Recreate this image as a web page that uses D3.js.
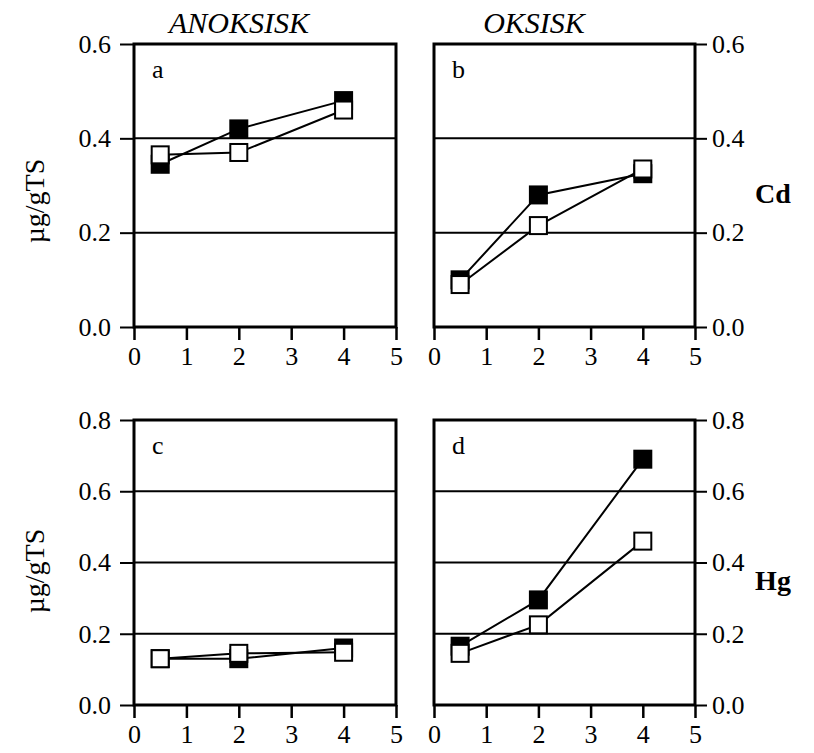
<!DOCTYPE html>
<html>
<head>
<meta charset="utf-8">
<script src="https://cdn.jsdelivr.net/npm/d3@7"></script>
<style>
  body { margin: 0; background: #fff; }
</style>
</head>
<body>
<script>
// -------------------- DATA --------------------
var depths = [0.5, 2, 4];          // x values (same for all panels)
var xTicks = [0, 1, 2, 3, 4, 5];

// Cd (top row)
var cdAnoxFilled = [0.345, 0.42, 0.48];
var cdAnoxOpen   = [0.365, 0.37, 0.46];
var cdOxFilled   = [0.10, 0.28, 0.325];
var cdOxOpen     = [0.09, 0.215, 0.335];
var cdTicks = [0, 0.2, 0.4, 0.6];

// Hg (bottom row)
var hgAnoxFilled = [0.13, 0.13, 0.16];
var hgAnoxOpen   = [0.13, 0.145, 0.148];
var hgOxFilled   = [0.165, 0.295, 0.69];
var hgOxOpen     = [0.145, 0.225, 0.46];
var hgTicks = [0, 0.2, 0.4, 0.6, 0.8];

var colTitles = ["ANOKSISK", "OKSISK"];
var rowTitles = ["Cd", "Hg"];
var yTitle = "µg/gTS";

// -------------------- LAYOUT --------------------
var W = 814, H = 753;
var FONT = "'Liberation Serif', 'Times New Roman', serif";
var cols = [ { x0: 134, x1: 396 }, { x0: 434, x1: 695 } ];
var rows = [ { y0: 44, y1: 327, titleY: 201, sideY: 203 },
             { y0: 420, y1: 705, titleY: 571, sideY: 590 } ];
var markerSize = 17;
var tickFont = "26px";

var svg = d3.select("body").append("svg")
  .attr("width", W)
  .attr("height", H)
  .style("font-family", FONT);

// -------------------- DRAW ONE PANEL --------------------
function drawPanel(opts) {
  var c = cols[opts.col], r = rows[opts.row];

  var x = d3.scaleLinear().domain([0, 5]).range([c.x0, c.x1]);
  var y = d3.scaleLinear().domain([0, d3.max(opts.yTicks)]).range([r.y1, r.y0]);

  var g = svg.append("g");

  // horizontal grid lines at inner ticks
  g.selectAll("line.grid")
    .data(opts.yTicks.slice(1, -1))
    .enter().append("line")
    .attr("class", "grid")
    .attr("x1", c.x0).attr("x2", c.x1)
    .attr("y1", function(d){ return y(d); })
    .attr("y2", function(d){ return y(d); })
    .attr("stroke", "#000")
    .attr("stroke-width", 2);

  // x axis
  var xAxis = d3.axisBottom(x).tickValues(xTicks).tickSize(13).tickPadding(7)
    .tickFormat(d3.format("d"));
  var gx = g.append("g")
    .attr("transform", "translate(0," + r.y1 + ")")
    .call(xAxis);
  gx.select(".domain").remove();
  gx.attr("font-family", null).attr("font-size", null);
  gx.selectAll(".tick line").attr("stroke-width", 2.5);
  gx.selectAll("text")
    .style("font-family", FONT).style("font-size", tickFont).attr("fill", "#000");

  // y axis (left for anoxic, right for oxic)
  var yAxis = (opts.col === 0 ? d3.axisLeft(y) : d3.axisRight(y))
    .tickValues(opts.yTicks).tickSize(opts.col === 0 ? 14 : 12)
    .tickPadding(opts.col === 0 ? 9 : 5)
    .tickFormat(d3.format(".1f"));
  var gy = g.append("g")
    .attr("transform", "translate(" + (opts.col === 0 ? c.x0 : c.x1) + ",0)")
    .call(yAxis);
  gy.select(".domain").remove();
  gy.attr("font-family", null).attr("font-size", null);
  gy.selectAll(".tick line").attr("stroke-width", 2);
  gy.selectAll("text")
    .style("font-family", FONT).style("font-size", tickFont).attr("fill", "#000");

  // frame
  g.append("rect")
    .attr("x", c.x0).attr("y", r.y0)
    .attr("width", c.x1 - c.x0).attr("height", r.y1 - r.y0)
    .attr("fill", "none")
    .attr("stroke", "#000")
    .attr("stroke-width", 3);

  // series: filled first, open on top
  var line = d3.line()
    .x(function(d, i){ return x(depths[i]); })
    .y(function(d){ return y(d); });

  [ { vals: opts.filled, fill: "#000" }, { vals: opts.open, fill: "#fff" } ]
    .forEach(function(s) {
      g.append("path")
        .attr("d", line(s.vals))
        .attr("fill", "none")
        .attr("stroke", "#000")
        .attr("stroke-width", 2);
      g.selectAll(null)
        .data(s.vals)
        .enter().append("rect")
        .attr("x", function(d, i){ return x(depths[i]) - markerSize / 2; })
        .attr("y", function(d){ return y(d) - markerSize / 2; })
        .attr("width", markerSize)
        .attr("height", markerSize)
        .attr("fill", s.fill)
        .attr("stroke", "#000")
        .attr("stroke-width", 2);
    });

  // panel letter
  g.append("text")
    .attr("x", c.x0 + 18)
    .attr("y", r.y0 + 34)
    .style("font-family", FONT)
    .style("font-size", "26px")
    .text(opts.letter);
}

// -------------------- DRAW 4 PANELS --------------------
drawPanel({ col: 0, row: 0, letter: "a", yTicks: cdTicks, filled: cdAnoxFilled, open: cdAnoxOpen });
drawPanel({ col: 1, row: 0, letter: "b", yTicks: cdTicks, filled: cdOxFilled,   open: cdOxOpen });
drawPanel({ col: 0, row: 1, letter: "c", yTicks: hgTicks, filled: hgAnoxFilled, open: hgAnoxOpen });
drawPanel({ col: 1, row: 1, letter: "d", yTicks: hgTicks, filled: hgOxFilled,   open: hgOxOpen });

// -------------------- TITLES --------------------
svg.selectAll("text.coltitle")
  .data(colTitles)
  .enter().append("text")
  .attr("class", "coltitle")
  .attr("x", function(d, i){ return i === 0 ? 239 : 534; })
  .attr("y", 33)
  .attr("text-anchor", "middle")
  .style("font-family", FONT)
  .style("font-size", "30px")
  .style("font-style", "italic")
  .text(function(d){ return d; });

rows.forEach(function(r, i) {
  svg.append("text")
    .attr("transform", "translate(44," + r.titleY + ") rotate(-90)")
    .attr("text-anchor", "middle")
    .style("font-family", FONT)
    .style("font-size", "28px")
    .text(yTitle);
  svg.append("text")
    .attr("x", 773)
    .attr("y", r.sideY)
    .attr("text-anchor", "middle")
    .style("font-family", FONT)
    .style("font-size", "28px")
    .style("font-weight", "bold")
    .text(rowTitles[i]);
});
</script>
</body>
</html>
